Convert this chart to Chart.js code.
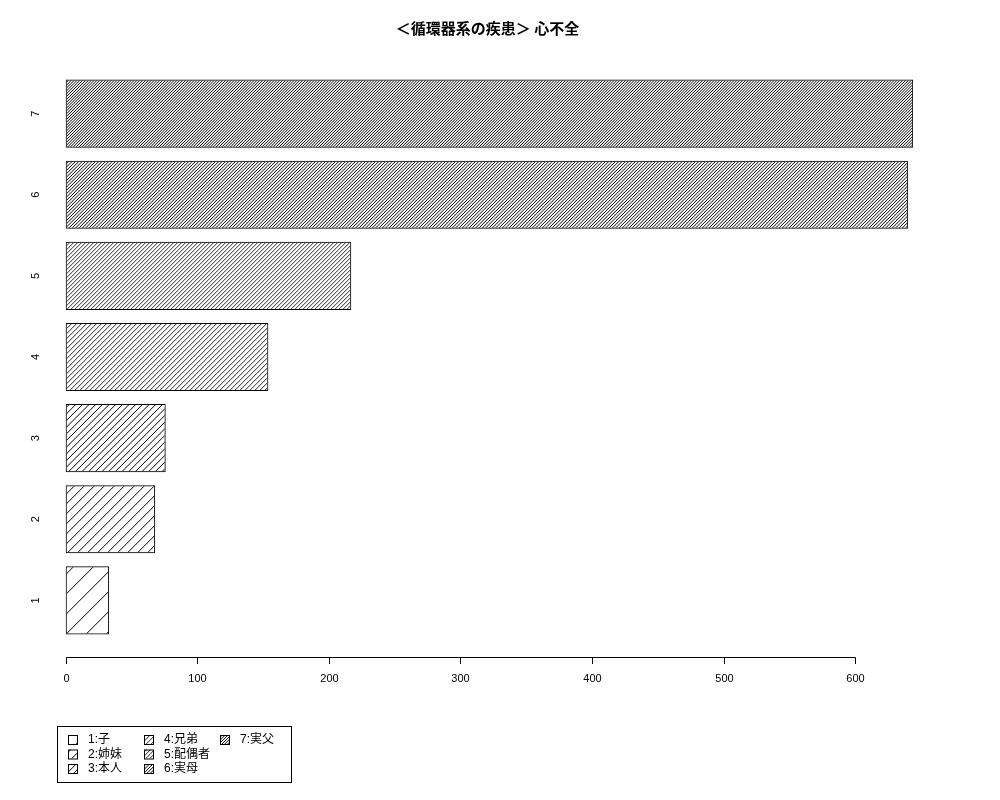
<!DOCTYPE html>
<html>
<head>
<meta charset="utf-8">
<script src="https://cdn.jsdelivr.net/npm/chart.js@4"></script>
<style>
  html, body { margin: 0; padding: 0; background: #fff; }
</style>
</head>
<body>
<canvas id="grafico" width="1000" height="800"></canvas>
<script>
// dados
const categorias = ["1", "2", "3", "4", "5", "6", "7"];
const valores = [33, 68, 76, 154, 217, 640, 644];
const legendaRotulos = ["1:子", "2:姉妹", "3:本人", "4:兄弟", "5:配偶者", "6:実母", "7:実父"];
const ticksX = [0, 100, 200, 300, 400, 500, 600];
const titulo = "＜循環器系の疾患＞ 心不全";

const fonteTexto = "'Liberation Sans', 'Noto Sans CJK JP', sans-serif";

// hachura "/" com k linhas por bloco de 20px
function hachura(k) {
  const tile = document.createElement("canvas");
  tile.width = 20;
  tile.height = 20;
  const c = tile.getContext("2d");
  c.strokeStyle = "#000";
  c.lineWidth = k === 4 || k === 5 ? 0.85 : 1;
  const passo = 20 / k;
  for (let j = 0; j <= 2 * k; j++) {
    const d = j * passo + 0.25;
    c.beginPath();
    c.moveTo(d + 1, -1);
    c.lineTo(-1, d + 1);
    c.stroke();
  }
  return document.getElementById("grafico").getContext("2d").createPattern(tile, "repeat");
}
const padroes = categorias.map((_, i) => hachura(i + 1));

const desenhoExtra = {
  id: "desenhoExtra",
  afterDraw(chart) {
    const ctx = chart.ctx;
    const area = chart.chartArea;
    const sx = chart.scales.x;
    const sy = chart.scales.y;
    ctx.save();

    // título
    ctx.fillStyle = "#000";
    ctx.font = "bold 15px 'Noto Sans CJK JP', sans-serif";
    ctx.textAlign = "center";
    ctx.textBaseline = "middle";
    ctx.fillText(titulo, (area.left + area.right) / 2 - 2, 28);

    // eixo x
    const yEixo = area.bottom + 16;
    ctx.strokeStyle = "#000";
    ctx.lineWidth = 1;
    ctx.beginPath();
    ctx.moveTo(Math.round(sx.getPixelForValue(ticksX[0])) + 0.5, yEixo + 0.5);
    ctx.lineTo(Math.round(sx.getPixelForValue(ticksX[ticksX.length - 1])) + 0.5, yEixo + 0.5);
    ctx.stroke();
    ctx.font = "11px " + fonteTexto;
    ctx.textAlign = "center";
    ctx.textBaseline = "middle";
    ticksX.forEach((t) => {
      const px = Math.round(sx.getPixelForValue(t)) + 0.5;
      ctx.beginPath();
      ctx.moveTo(px, yEixo + 0.5);
      ctx.lineTo(px, yEixo + 7);
      ctx.stroke();
      ctx.fillText(String(t), px, yEixo + 22);
    });

    // rótulos do eixo y (girados)
    categorias.forEach((cat, i) => {
      const py = sy.getPixelForValue(i);
      ctx.save();
      ctx.translate(36, py);
      ctx.rotate(-Math.PI / 2);
      ctx.fillText(cat, 0, 0);
      ctx.restore();
    });

    // legenda
    const lx = 57, ly = 726, lw = 234, lh = 56;
    ctx.strokeStyle = "#000";
    ctx.strokeRect(lx + 0.5, ly + 0.5, lw, lh);
    ctx.font = "12px " + fonteTexto;
    ctx.textAlign = "left";
    legendaRotulos.forEach((rot, i) => {
      const col = Math.floor(i / 3);
      const lin = i % 3;
      const bx = lx + 11 + col * 76;
      const by = ly + 9 + lin * 14.5;
      ctx.fillStyle = padroes[i];
      ctx.fillRect(bx, by, 9, 9);
      ctx.strokeRect(bx + 0.5, by + 0.5, 9, 9);
      ctx.fillStyle = "#000";
      ctx.fillText(rot, bx + 20, by + 5);
    });

    ctx.restore();
  }
};

new Chart(document.getElementById("grafico").getContext("2d"), {
  type: "bar",
  data: {
    labels: categorias,
    datasets: [
      {
        data: valores,
        backgroundColor: padroes,
        borderColor: "#000",
        borderWidth: 1,
        borderSkipped: false,
        barPercentage: 0.84,
        categoryPercentage: 1.0,
      },
    ],
  },
  options: {
    indexAxis: "y",
    responsive: false,
    animation: false,
    devicePixelRatio: 1,
    layout: { padding: { left: 32, right: 53, top: 73, bottom: 159 } },
    scales: {
      x: { display: false, min: -25.6, max: 669.7 },
      y: { display: false, reverse: true, offset: true },
    },
    plugins: {
      legend: { display: false },
      title: { display: false },
      tooltip: { enabled: false },
    },
  },
  plugins: [desenhoExtra],
});
</script>
</body>
</html>
